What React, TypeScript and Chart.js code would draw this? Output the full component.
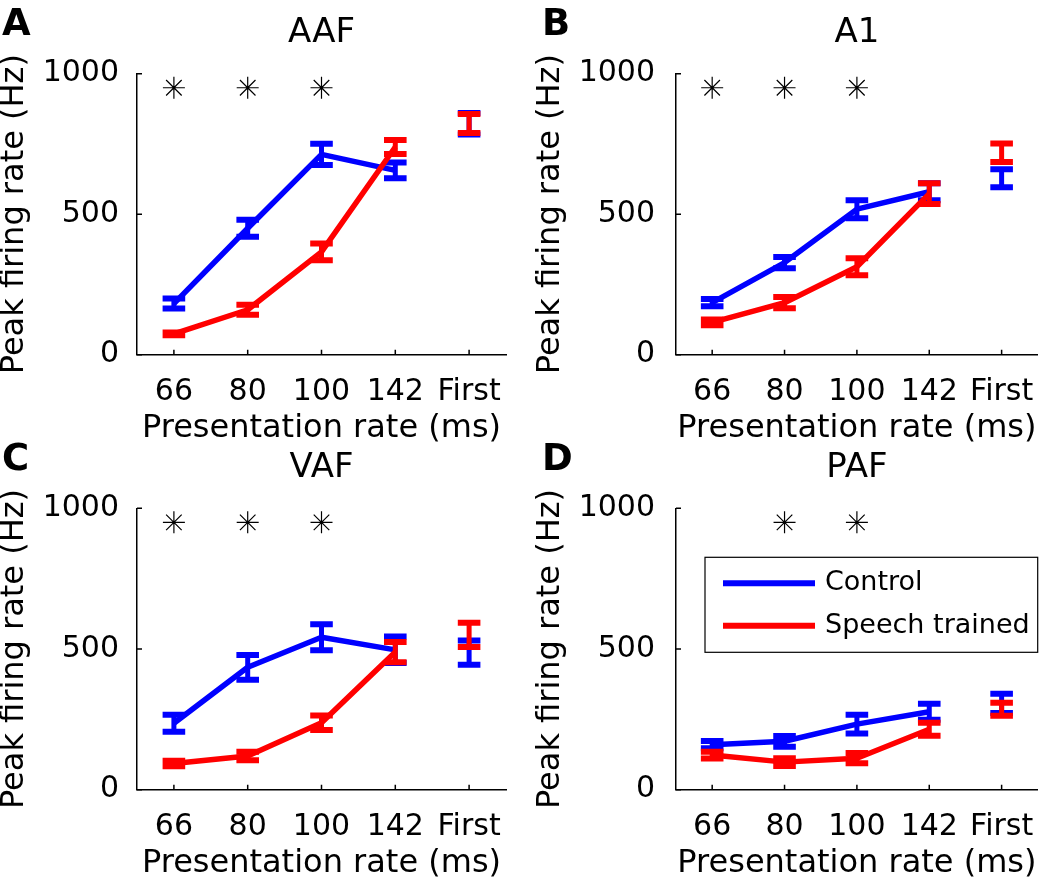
import React, { useEffect, useRef } from "react";
import { Chart, registerables } from "chart.js";

Chart.register(...registerables);

// ---------- data ----------
const categories = ["66", "80", "100", "142", "First"];
const yTickValues = [0, 500, 1000];
const seriesLabels = ["Control", "Speech trained"];
const xAxisTitle = "Presentation rate (ms)";
const yAxisTitle = "Peak firing rate (Hz)";

// AAF
const aafControl = [182, 450, 713, 656, 822];
const aafControlErr = [18, 30, 38, 28, 38];
const aafSpeech = [74, 160, 366, 739, 823];
const aafSpeechErr = [5, 18, 30, 25, 34];
const aafSig = [950, 950, 950, null, null];

// A1
const a1Control = [185, 328, 518, 580, 628];
const a1ControlErr = [13, 20, 32, 30, 32];
const a1Speech = [115, 185, 313, 573, 719];
const a1SpeechErr = [10, 20, 30, 37, 33];
const a1Sig = [950, 950, 950, null, null];

// VAF
const vafControl = [236, 435, 542, 497, 487];
const vafControlErr = [30, 44, 46, 47, 43];
const vafSpeech = [93, 120, 238, 489, 550];
const vafSpeechErr = [10, 15, 26, 36, 43];
const vafSig = [950, 950, 950, null, null];

// PAF
const pafControl = [160, 172, 233, 277, 307];
const pafControlErr = [13, 19, 33, 28, 34];
const pafSpeech = [123, 98, 112, 215, 286];
const pafSpeechErr = [12, 14, 18, 23, 23];
const pafSig = [null, 950, 950, null, null];

// ---------- styling / layout ----------
const FAMILY = "'DejaVu Sans', sans-serif";
const BLUE = "#0000ff";
const RED = "#ff0000";

type Panel = {
  letter: string;
  title: string;
  control: number[];
  controlErr: number[];
  speech: number[];
  speechErr: number[];
  sig: (number | null)[];
  legend: boolean;
  left: number;
  top: number;
  width: number;
  height: number;
  area: { l: number; r: number; t: number; b: number };
  padL: number;
  yTickPad: number;
  titlePad: { top: number; bottom: number };
  xTitlePadBottom: number;
  letterPos: { x: number; y: number };
};

const panels: Panel[] = [
  {
    letter: "A", title: "AAF",
    control: aafControl, controlErr: aafControlErr, speech: aafSpeech, speechErr: aafSpeechErr, sig: aafSig,
    legend: false, left: 0, top: 0, width: 525, height: 460,
    area: { l: 137, r: 506, t: 73.7, b: 354.7 }, padL: 0, yTickPad: 10,
    titlePad: { top: 13, bottom: 19.9 }, xTitlePadBottom: 14.2, letterPos: { x: 2, y: 35 },
  },
  {
    letter: "B", title: "A1",
    control: a1Control, controlErr: a1ControlErr, speech: a1Speech, speechErr: a1SpeechErr, sig: a1Sig,
    legend: false, left: 525, top: 0, width: 525, height: 460,
    area: { l: 151, r: 520, t: 73.7, b: 354.7 }, padL: 10.8, yTickPad: 13,
    titlePad: { top: 13, bottom: 19.9 }, xTitlePadBottom: 14.2, letterPos: { x: 17, y: 35 },
  },
  {
    letter: "C", title: "VAF",
    control: vafControl, controlErr: vafControlErr, speech: vafSpeech, speechErr: vafSpeechErr, sig: vafSig,
    legend: false, left: 0, top: 440, width: 525, height: 441,
    area: { l: 137, r: 506, t: 68.3, b: 349.7 }, padL: 0, yTickPad: 10,
    titlePad: { top: 7.9, bottom: 19.6 }, xTitlePadBottom: 0.2, letterPos: { x: 2, y: 30 },
  },
  {
    letter: "D", title: "PAF",
    control: pafControl, controlErr: pafControlErr, speech: pafSpeech, speechErr: pafSpeechErr, sig: pafSig,
    legend: true, left: 525, top: 440, width: 525, height: 441,
    area: { l: 151, r: 520, t: 68.3, b: 349.7 }, padL: 10.8, yTickPad: 13,
    titlePad: { top: 7.9, bottom: 19.6 }, xTitlePadBottom: 0.2, letterPos: { x: 17, y: 30 },
  },
];

// ---------- plugins ----------
const errorBarPlugin = {
  id: "errorBars",
  afterDatasetDraw(chart: any, args: any) {
    const ds = chart.data.datasets[args.index];
    if (!ds.errors) return;
    const xs = chart.scales.x;
    const ys = chart.scales.y;
    const ctx = chart.ctx;
    ctx.save();
    ctx.strokeStyle = ds.borderColor;
    ctx.lineCap = "butt";
    ds.means.forEach((m: number, i: number) => {
      const e = ds.errors[i];
      const px = xs.getPixelForValue(i);
      const pt = ys.getPixelForValue(m + e);
      const pb = ys.getPixelForValue(m - e);
      ctx.lineWidth = 5;
      ctx.beginPath();
      ctx.moveTo(px, pt);
      ctx.lineTo(px, pb);
      ctx.stroke();
      ctx.lineWidth = 6;
      ctx.beginPath();
      ctx.moveTo(px - 11.3, pt);
      ctx.lineTo(px + 11.3, pt);
      ctx.moveTo(px - 11.3, pb);
      ctx.lineTo(px + 11.3, pb);
      ctx.stroke();
    });
    ctx.restore();
  },
};

const inwardTickPlugin = {
  id: "inwardTicks",
  afterDraw(chart: any) {
    const xs = chart.scales.x;
    const ys = chart.scales.y;
    const ctx = chart.ctx;
    const a = chart.chartArea;
    ctx.save();
    ctx.strokeStyle = "#000";
    ctx.lineWidth = 1.5;
    ctx.beginPath();
    ys.ticks.forEach((t: any) => {
      const py = ys.getPixelForValue(t.value);
      ctx.moveTo(a.left, py);
      ctx.lineTo(a.left + 5, py);
    });
    xs.ticks.forEach((_t: any, i: number) => {
      const px = xs.getPixelForTick(i);
      ctx.moveTo(px, a.bottom);
      ctx.lineTo(px, a.bottom - 5);
    });
    ctx.stroke();
    ctx.restore();
  },
};

function makeDecorPlugin(p: Panel) {
  return {
    id: "decor",
    afterDraw(chart: any) {
      const ctx = chart.ctx;
      ctx.save();
      ctx.fillStyle = "#000";
      ctx.font = `bold 37px ${FAMILY}`;
      ctx.textAlign = "left";
      ctx.textBaseline = "alphabetic";
      ctx.fillText(p.letter, p.letterPos.x, p.letterPos.y);
      if (p.legend) {
        const a = chart.chartArea;
        const bx = a.left + 29;
        const by = a.top + 49;
        const bw = 332.7;
        const bh = 95;
        ctx.fillStyle = "#fff";
        ctx.fillRect(bx, by, bw, bh);
        ctx.strokeStyle = "#000";
        ctx.lineWidth = 1.2;
        ctx.strokeRect(bx, by, bw, bh);
        const items = chart.data.datasets.filter((d: any) => d.errors);
        items.sort((u: any, v: any) => u.legendIndex - v.legendIndex);
        items.forEach((d: any, i: number) => {
          const ry = by + 26 + i * 42.4;
          ctx.strokeStyle = d.borderColor;
          ctx.lineWidth = 6;
          ctx.lineCap = "butt";
          ctx.beginPath();
          ctx.moveTo(bx + 18, ry);
          ctx.lineTo(bx + 110, ry);
          ctx.stroke();
          ctx.fillStyle = "#000";
          ctx.font = `27px ${FAMILY}`;
          ctx.textBaseline = "middle";
          ctx.fillText(d.label, bx + 120, ry);
        });
      }
      ctx.restore();
    },
  };
}

function buildConfig(p: Panel): any {
  return {
    type: "line",
    data: {
      labels: categories,
      datasets: [
        {
          label: seriesLabels[0],
          legendIndex: 0,
          data: p.control.slice(0, 4),
          means: p.control,
          errors: p.controlErr,
          borderColor: BLUE,
          backgroundColor: BLUE,
          borderWidth: 5.5,
          borderJoinStyle: "round",
          pointRadius: 0,
          order: 1,
        },
        {
          label: seriesLabels[1],
          legendIndex: 1,
          data: p.speech.slice(0, 4),
          means: p.speech,
          errors: p.speechErr,
          borderColor: RED,
          backgroundColor: RED,
          borderWidth: 5.5,
          borderJoinStyle: "round",
          pointRadius: 0,
          order: 0,
        },
        {
          label: "significance",
          data: p.sig,
          showLine: false,
          pointStyle: "star",
          pointRadius: 11,
          pointBorderWidth: 1.2,
          pointBorderColor: "#000",
          borderColor: "#000",
          order: 2,
        },
      ],
    },
    options: {
      animation: false,
      responsive: false,
      devicePixelRatio: 1,
      events: [],
      layout: { padding: { left: p.padL, right: p.width - p.area.r, top: 0, bottom: 0 } },
      plugins: {
        legend: { display: false },
        tooltip: { enabled: false },
        title: {
          display: true,
          text: p.title,
          fullSize: false,
          color: "#000",
          font: { family: FAMILY, size: 34, weight: "normal", lineHeight: 1.2 },
          padding: p.titlePad,
        },
      },
      scales: {
        x: {
          type: "category",
          offset: true,
          grid: { display: false },
          border: { display: true, color: "#000", width: 1.5 },
          ticks: {
            color: "#000",
            font: { family: FAMILY, size: 30 },
            padding: 12,
            maxRotation: 0,
            minRotation: 0,
            autoSkip: false,
          },
          title: {
            display: true,
            text: xAxisTitle,
            color: "#000",
            font: { family: FAMILY, size: 32, lineHeight: 1.1 },
            padding: { top: 0, bottom: p.xTitlePadBottom },
          },
          afterFit: (s: any) => {
            s.height = p.height - p.area.b;
            s.paddingLeft = 0;
            s.paddingRight = 0;
          },
        },
        y: {
          type: "linear",
          min: 0,
          max: 1000,
          grid: { display: false },
          border: { display: true, color: "#000", width: 1.5 },
          afterBuildTicks: (s: any) => {
            s.ticks = yTickValues.map((v) => ({ value: v }));
          },
          ticks: {
            color: "#000",
            font: { family: FAMILY, size: 30 },
            padding: p.yTickPad,
            callback: (v: any) => String(v),
          },
          title: {
            display: true,
            text: yAxisTitle,
            color: "#000",
            font: { family: FAMILY, size: 32, lineHeight: 0.9 },
            padding: { top: 0, bottom: 0 },
          },
          afterFit: (s: any) => {
            s.width = p.area.l - p.padL;
            s.paddingTop = 0;
            s.paddingBottom = 0;
          },
        },
      },
    },
    plugins: [errorBarPlugin, inwardTickPlugin, makeDecorPlugin(p)],
  };
}

function PanelChart({ p }: { p: Panel }) {
  const ref = useRef<HTMLCanvasElement | null>(null);
  useEffect(() => {
    if (!ref.current) return;
    const chart = new Chart(ref.current, buildConfig(p));
    return () => chart.destroy();
  }, [p]);
  return (
    <canvas
      ref={ref}
      width={p.width}
      height={p.height}
      style={{ position: "absolute", left: p.left, top: p.top, width: p.width, height: p.height }}
    />
  );
}

export default function App() {
  return (
    <div style={{ position: "absolute", left: 0, top: 0, width: 1050, height: 881, background: "#fff", overflow: "hidden" }}>
      {panels.map((p) => (
        <PanelChart key={p.letter} p={p} />
      ))}
    </div>
  );
}
